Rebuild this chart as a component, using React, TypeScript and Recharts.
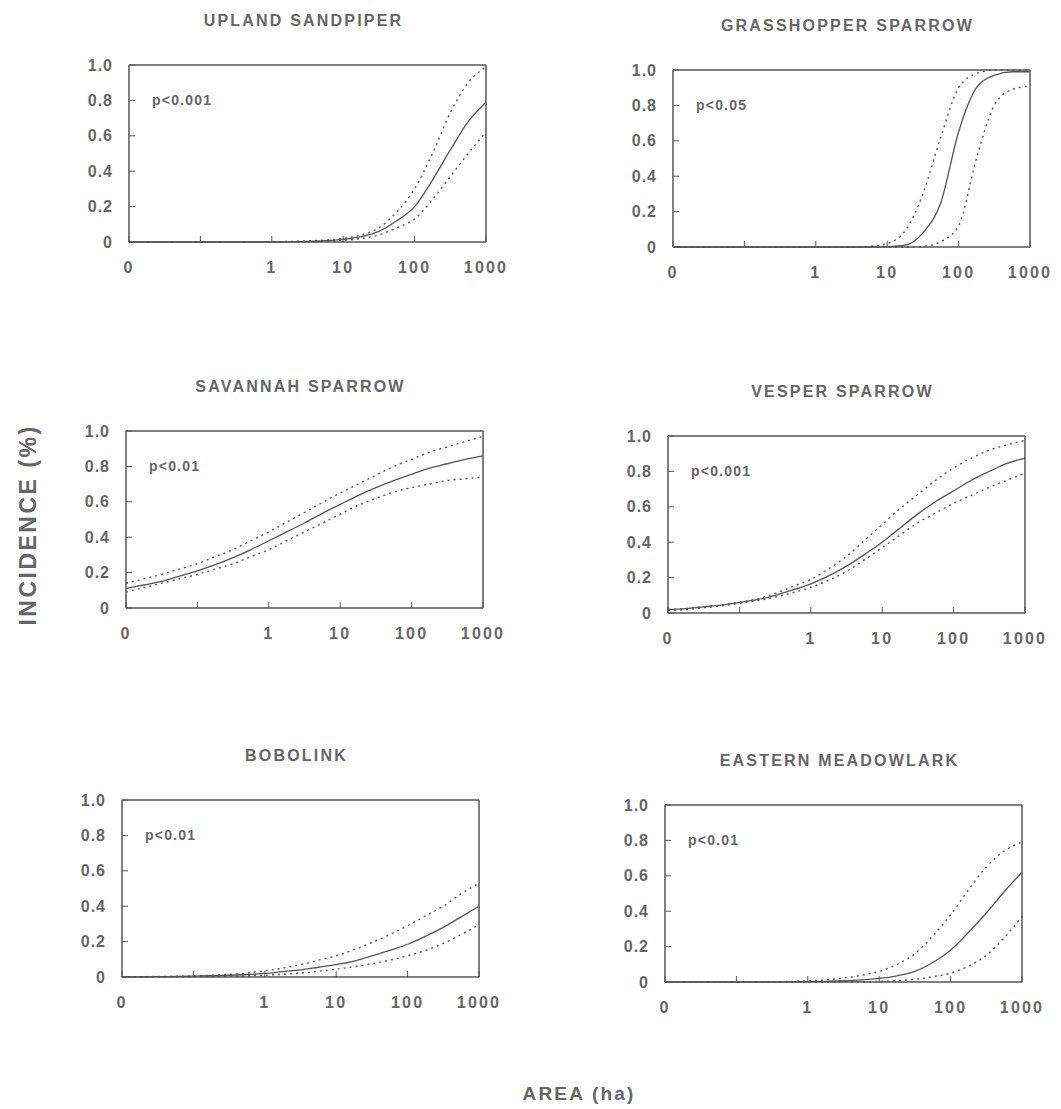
import { LineChart, Line, XAxis, YAxis } from 'recharts';

// log10(area in ha); -2 is drawn as "0" at the left end of the axis
const logArea = [-2, -1.75, -1.5, -1.25, -1, -0.75, -0.5, -0.25, 0, 0.25, 0.5, 0.75, 1, 1.25, 1.5, 1.75, 2, 2.25, 2.5, 2.75, 3];
const xTicks = [-2, -1, 0, 1, 2, 3];
const xTickLabels: Record<string, string> = { '-2': '0', '-1': '', '0': '1', '1': '10', '2': '100', '3': '1000' };
const yTicks = [0, 0.2, 0.4, 0.6, 0.8, 1];

const sandpiperFit = [0, 0, 0, 0, 0, 0, 0, 0, 0, 0.001, 0.003, 0.007, 0.015, 0.03, 0.06, 0.12, 0.2, 0.35, 0.52, 0.68, 0.79];
const sandpiperUpper = [0, 0, 0, 0, 0, 0, 0, 0, 0.001, 0.003, 0.006, 0.011, 0.02, 0.04, 0.08, 0.17, 0.3, 0.5, 0.73, 0.9, 0.99];
const sandpiperLower = [0, 0, 0, 0, 0, 0, 0, 0, 0, 0.001, 0.002, 0.005, 0.01, 0.02, 0.04, 0.08, 0.13, 0.24, 0.37, 0.5, 0.62];

const grasshopperFit = [0, 0, 0, 0, 0, 0, 0, 0, 0, 0, 0, 0, 0.002, 0.01, 0.08, 0.25, 0.65, 0.9, 0.97, 0.99, 0.99];
const grasshopperUpper = [0, 0, 0, 0, 0, 0, 0, 0, 0, 0, 0, 0.003, 0.02, 0.09, 0.3, 0.62, 0.9, 0.98, 1, 1, 1];
const grasshopperLower = [0, 0, 0, 0, 0, 0, 0, 0, 0, 0, 0, 0, 0, 0, 0.003, 0.03, 0.12, 0.5, 0.8, 0.89, 0.91];

const savannahFit = [0.11, 0.13, 0.15, 0.18, 0.21, 0.245, 0.285, 0.33, 0.38, 0.43, 0.48, 0.535, 0.585, 0.635, 0.68, 0.72, 0.755, 0.79, 0.815, 0.84, 0.86];
const savannahUpper = [0.14, 0.165, 0.19, 0.22, 0.25, 0.29, 0.33, 0.38, 0.43, 0.485, 0.54, 0.595, 0.65, 0.7, 0.75, 0.8, 0.84, 0.88, 0.91, 0.94, 0.97];
const savannahLower = [0.09, 0.115, 0.14, 0.165, 0.19, 0.22, 0.25, 0.29, 0.33, 0.38, 0.43, 0.48, 0.53, 0.58, 0.62, 0.655, 0.68, 0.7, 0.72, 0.73, 0.74];

const vesperFit = [0.02, 0.025, 0.035, 0.045, 0.06, 0.075, 0.1, 0.13, 0.165, 0.21, 0.265, 0.33, 0.4, 0.48, 0.56, 0.63, 0.69, 0.75, 0.8, 0.845, 0.875];
const vesperUpper = [0.02, 0.025, 0.035, 0.045, 0.06, 0.08, 0.11, 0.15, 0.19, 0.25, 0.32, 0.41, 0.5, 0.59, 0.67, 0.75, 0.82, 0.875, 0.92, 0.95, 0.975];
const vesperLower = [0.015, 0.02, 0.03, 0.04, 0.055, 0.07, 0.09, 0.115, 0.145, 0.185, 0.235, 0.3, 0.37, 0.44, 0.51, 0.565, 0.62, 0.665, 0.71, 0.75, 0.79];

const bobolinkFit = [0, 0.001, 0.002, 0.003, 0.005, 0.007, 0.01, 0.014, 0.02, 0.03, 0.04, 0.055, 0.07, 0.09, 0.12, 0.15, 0.185, 0.23, 0.28, 0.34, 0.4];
const bobolinkUpper = [0.001, 0.002, 0.003, 0.004, 0.006, 0.01, 0.015, 0.022, 0.035, 0.05, 0.07, 0.095, 0.12, 0.155, 0.195, 0.24, 0.29, 0.345, 0.4, 0.47, 0.53];
const bobolinkLower = [0, 0, 0.001, 0.001, 0.002, 0.003, 0.005, 0.007, 0.01, 0.015, 0.022, 0.032, 0.045, 0.058, 0.075, 0.095, 0.12, 0.15, 0.19, 0.24, 0.295];

const meadowlarkFit = [0, 0, 0, 0, 0, 0, 0, 0.001, 0.002, 0.004, 0.007, 0.012, 0.02, 0.035, 0.06, 0.11, 0.18, 0.28, 0.39, 0.51, 0.62];
const meadowlarkUpper = [0.001, 0.001, 0.001, 0.001, 0.001, 0.001, 0.001, 0.003, 0.006, 0.012, 0.022, 0.038, 0.06, 0.1, 0.16, 0.26, 0.38, 0.52, 0.65, 0.74, 0.79];
const meadowlarkLower = [0, 0, 0, 0, 0, 0, 0, 0, 0, 0, 0, 0.001, 0.003, 0.008, 0.015, 0.03, 0.05, 0.09, 0.15, 0.25, 0.37];

const INK = '#555';
const TEXT = '#666';
const BOX_W = 357;
const BOX_H = 177;
const Y_AXIS_W = 50;
const RIGHT_PAD = 40;

type PanelProps = {
  title: string;
  p: string;
  fit: number[];
  upper: number[];
  lower: number[];
  boxLeft: number;
  boxTop: number;
};

const Panel = ({ title, p, fit, upper, lower, boxLeft, boxTop }: PanelProps) => {
  const data = logArea.map((x, i) => ({ x, fit: fit[i], upper: upper[i], lower: lower[i] }));
  const left = boxLeft - Y_AXIS_W;
  const top = boxTop - 11;
  return (
    <>
      <div
        style={{
          position: 'absolute',
          left: boxLeft - 4,
          width: BOX_W,
          top: boxTop - 53,
          textAlign: 'center',
          fontSize: 16,
          fontWeight: 700,
          letterSpacing: 2.2,
          color: TEXT,
        }}
      >
        {title}
      </div>
      <div
        style={{
          position: 'absolute',
          left: boxLeft + 23,
          top: boxTop + 27,
          fontSize: 14,
          fontWeight: 700,
          letterSpacing: 1.2,
          color: TEXT,
        }}
      >
        {p}
      </div>
      <div style={{ position: 'absolute', left, top }}>
        <LineChart
          width={Y_AXIS_W + BOX_W + 1 + RIGHT_PAD}
          height={10 + 1 + BOX_H + 35}
          data={data}
          margin={{ top: 10, right: RIGHT_PAD, bottom: 0, left: 0 }}
        >
          <XAxis
            dataKey="x"
            type="number"
            domain={[-2, 3]}
            ticks={xTicks}
            interval={0}
            tickFormatter={(v: number) => xTickLabels[String(v)] ?? ''}
            tickSize={-6}
            tickMargin={26}
            height={35}
            axisLine={{ stroke: INK, strokeWidth: 1.5 }}
            tickLine={{ stroke: INK }}
            tick={{ fill: TEXT, fontSize: 16, fontWeight: 700, letterSpacing: 2.2 }}
          />
          <XAxis
            xAxisId="top"
            orientation="top"
            dataKey="x"
            type="number"
            domain={[-2, 3]}
            ticks={xTicks}
            interval={0}
            tickSize={-6}
            height={1}
            tick={false}
            axisLine={{ stroke: INK, strokeWidth: 1.5 }}
            tickLine={{ stroke: INK }}
          />
          <YAxis
            type="number"
            domain={[0, 1]}
            ticks={yTicks}
            interval={0}
            tickFormatter={(v: number) => (v === 0 ? '0' : v.toFixed(1))}
            tickSize={-6}
            tickMargin={22}
            width={Y_AXIS_W}
            axisLine={{ stroke: INK, strokeWidth: 1.5 }}
            tickLine={{ stroke: INK }}
            tick={{ fill: TEXT, fontSize: 16, fontWeight: 700, letterSpacing: 1 }}
          />
          <YAxis
            yAxisId="right"
            orientation="right"
            type="number"
            domain={[0, 1]}
            ticks={yTicks}
            interval={0}
            tickSize={-6}
            width={1}
            tick={false}
            axisLine={{ stroke: INK, strokeWidth: 1.5 }}
            tickLine={{ stroke: INK }}
          />
          <Line type="monotone" dataKey="upper" stroke={INK} strokeWidth={1.4} strokeDasharray="2 4" dot={false} isAnimationActive={false} />
          <Line type="monotone" dataKey="lower" stroke={INK} strokeWidth={1.4} strokeDasharray="2 4" dot={false} isAnimationActive={false} />
          <Line type="monotone" dataKey="fit" stroke={INK} strokeWidth={1.3} dot={false} isAnimationActive={false} />
        </LineChart>
      </div>
    </>
  );
};

export default function App() {
  return (
    <div
      style={{
        position: 'absolute',
        left: 0,
        top: 0,
        width: 1061,
        height: 1109,
        background: '#fff',
        overflow: 'hidden',
        fontFamily: '"Liberation Sans", Arial, sans-serif',
      }}
    >
      <Panel title="UPLAND SANDPIPER" p="p<0.001" fit={sandpiperFit} upper={sandpiperUpper} lower={sandpiperLower} boxLeft={129} boxTop={65} />
      <Panel title="GRASSHOPPER SPARROW" p="p<0.05" fit={grasshopperFit} upper={grasshopperUpper} lower={grasshopperLower} boxLeft={673} boxTop={70} />
      <Panel title="SAVANNAH SPARROW" p="p<0.01" fit={savannahFit} upper={savannahUpper} lower={savannahLower} boxLeft={126} boxTop={431} />
      <Panel title="VESPER SPARROW" p="p<0.001" fit={vesperFit} upper={vesperUpper} lower={vesperLower} boxLeft={668} boxTop={436} />
      <Panel title="BOBOLINK" p="p<0.01" fit={bobolinkFit} upper={bobolinkUpper} lower={bobolinkLower} boxLeft={122} boxTop={800} />
      <Panel title="EASTERN MEADOWLARK" p="p<0.01" fit={meadowlarkFit} upper={meadowlarkUpper} lower={meadowlarkLower} boxLeft={665} boxTop={805} />
      <div
        style={{
          position: 'absolute',
          left: 28,
          top: 525,
          transform: 'translate(-50%, -50%) rotate(-90deg)',
          whiteSpace: 'nowrap',
          fontSize: 23,
          fontWeight: 700,
          letterSpacing: 2.5,
          color: TEXT,
        }}
      >
        INCIDENCE (%)
      </div>
      <div
        style={{
          position: 'absolute',
          left: 579,
          top: 1094,
          transform: 'translate(-50%, -50%)',
          whiteSpace: 'nowrap',
          fontSize: 19,
          fontWeight: 700,
          letterSpacing: 2.2,
          lineHeight: 1.1,
          color: TEXT,
        }}
      >
        AREA (ha)
      </div>
    </div>
  );
}
